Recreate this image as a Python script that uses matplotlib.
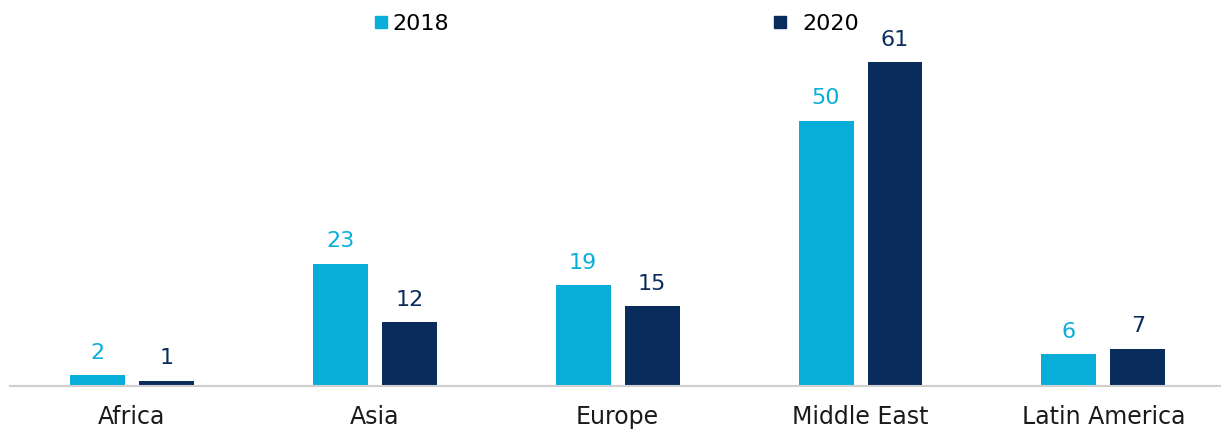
import matplotlib.pyplot as plt
from matplotlib.lines import Line2D
import numpy as np

plt.rcParams['font.family'] = ['DejaVu Sans']

regions = ["Africa", "Asia", "Europe", "Middle East", "Latin America"]
years = ["2018", "2020"]
values_2018 = [2, 23, 19, 50, 6]
values_2020 = [1, 12, 15, 61, 7]

light_blue = '#08AED8'
navy = '#0A2C5D'

fig = plt.figure(figsize=(12.25, 4.3), dpi=100)
ax = fig.add_axes([10 / 1225, 44 / 430, 1210 / 1225, 386 / 430])

x = np.arange(len(regions))
width = 0.226
offset = 0.142

b1 = ax.bar(x - offset, values_2018, width, color=light_blue)
b2 = ax.bar(x + offset, values_2020, width, color=navy)

ax.bar_label(b1, padding=9, color=light_blue, fontsize=16)
ax.bar_label(b2, padding=9, color=navy, fontsize=16)

ax.set_xlim(-0.502, 4.48)
ax.set_ylim(0, 72.7)
ax.set_xticks(x)
ax.set_xticklabels(regions, fontsize=17, color='#1a1a1a')
ax.tick_params(axis='x', length=0, pad=14)
ax.set_yticks([])
for side in ['top', 'right', 'left']:
    ax.spines[side].set_visible(False)
ax.spines['bottom'].set_color('#d0d0d0')
ax.spines['bottom'].set_linewidth(1.5)

# two separate legend entries, placed like the original
legend_x = [372 / 1225, 771 / 1225]
gaps = [0.1, 0.6]
for c, lab, lx, gap in zip([light_blue, navy], years, legend_x, gaps):
    h = Line2D([], [], marker='s', linestyle='', markersize=9,
               color=c, label=lab)
    fig.legend(handles=[h], loc='center left',
               bbox_to_anchor=(lx, 1 - 24 / 430), frameon=False,
               fontsize=16, handletextpad=gap, handlelength=0.8,
               borderaxespad=0, borderpad=0)

fig.savefig("out.png", dpi=100)
